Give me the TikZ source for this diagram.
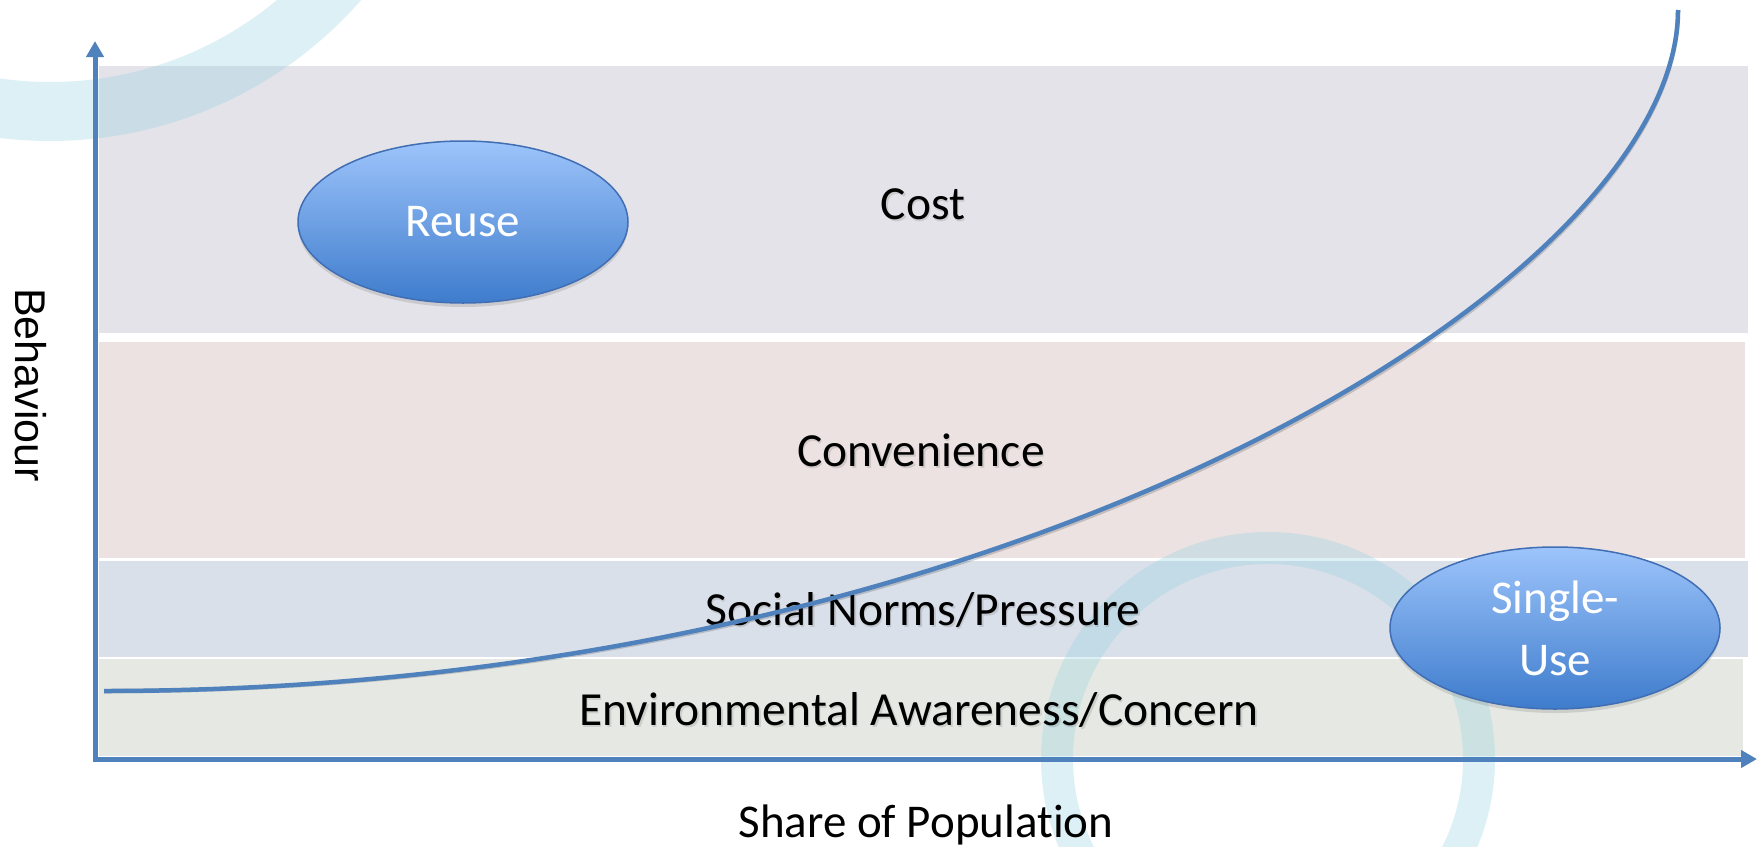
\documentclass[tikz,border=0pt]{standalone}
\usepackage{fontspec}
\setmainfont[Ligatures=NoCommon]{Carlito}
\newfontfamily\axisfont{Liberation Sans}
\usetikzlibrary{arrows.meta,shapes.geometric,shadows}

\definecolor{axisblue}{RGB}{79,129,189}
\definecolor{costfill}{RGB}{228,227,233}
\definecolor{convfill}{RGB}{235,226,225}
\definecolor{socialfill}{RGB}{218,224,233}
\definecolor{envfill}{RGB}{230,233,227}
\definecolor{ringcol}{RGB}{150,210,225}
\definecolor{bubbletop}{RGB}{157,196,251}
\definecolor{bubblebottom}{RGB}{62,124,204}
\definecolor{bubbleedge}{RGB}{64,110,180}

\begin{document}
\begin{tikzpicture}[x=1pt,y=-1pt,
  ring/.style={draw=ringcol, draw opacity=0.33},
  axisline/.style={draw=axisblue, line width=5pt,
    {Triangle[length=16pt,width=17pt]}-{Triangle[length=16pt,width=17pt]}},
  curveline/.style={draw=axisblue, line width=4.5pt},
  curveshade/.style={draw=black, draw opacity=0.16, line width=4.5pt},
  bandlabel/.style={anchor=base, text=black, font=\fontsize{47.5}{56}\selectfont},
  labelshade/.style={anchor=base, text=black, text opacity=0.11, font=\fontsize{47.5}{56}\selectfont},
  bubble/.style={ellipse, minimum width=330pt, minimum height=162pt, inner sep=0pt,
    draw=bubbleedge, line width=1.5pt, top color=bubbletop, bottom color=bubblebottom,
    text=white, align=center, font=\fontsize{47}{62}\selectfont,
    drop shadow={shadow xshift=0pt, shadow yshift=-4pt, opacity=0.25}},
  axislabel/.style={text=black, font=\fontsize{47}{56}\selectfont}
]
\useasboundingbox (0,0) rectangle (1758,846);
\clip (0,0) rectangle (1758,846);

% horizontal bands of the chart
\fill[costfill]   (99,66)  rectangle (1748,333);
\fill[convfill]   (99,342) rectangle (1745,558);
\fill[socialfill] (99,561) rectangle (1748,657);
\fill[envfill]    (99,659) rectangle (1743,756);

% decorative rings in the background
\draw[ring, line width=59pt] (50,-273) circle[radius=384.5pt];
\draw[ring, line width=32pt] (1268,759) circle[radius=211pt];

% band labels (with a faint shadow)
\node[labelshade, xshift=1.5pt, yshift=-2pt] at (923,219) {Cost};
\node[bandlabel] (cost) at (923,219) {Cost};
\node[labelshade, xshift=1.5pt, yshift=-2pt] at (921,466) {Convenience};
\node[bandlabel] (conv) at (921,466) {Convenience};
\node[labelshade, xshift=1.5pt, yshift=-2pt] at (923,625) {Social Norms/Pressure};
\node[bandlabel] (social) at (923,625) {Social Norms/Pressure};
\node[labelshade, xshift=1.5pt, yshift=-2pt] at (919,725) {Environmental Awareness/Concern};
\node[bandlabel] (env) at (919,725) {Environmental Awareness/Concern};

% axes
\coordinate (O) at (95,759);
\coordinate (ytip) at (95,41);
\coordinate (xtip) at (1757,759);
\draw[axisline] (ytip) -- (O) -- (xtip);

% adoption curve
\coordinate (cstart) at (104,691);
\coordinate (cend) at (1678,10);
\begin{scope}[xshift=1.5pt, yshift=-2.5pt]
\draw[curveshade] (cstart) .. controls (1004,691) and (1678,285) .. (cend);
\end{scope}
\draw[curveline] (cstart) .. controls (1004,691) and (1678,285) .. (cend);

% behaviour bubbles
\node[bubble] (reuse) at (463,222) {Reuse};
\node[bubble] (single) at (1555,628) {Single-\\Use};

% axis titles
\node[axislabel, anchor=base] (xlabel) at (926,837) {Share of Population};
\node[axislabel, rotate=-90, font=\axisfont\fontsize{43}{50}\selectfont] (ylabel) at (31,385) {Behaviour};
\end{tikzpicture}
\end{document}
